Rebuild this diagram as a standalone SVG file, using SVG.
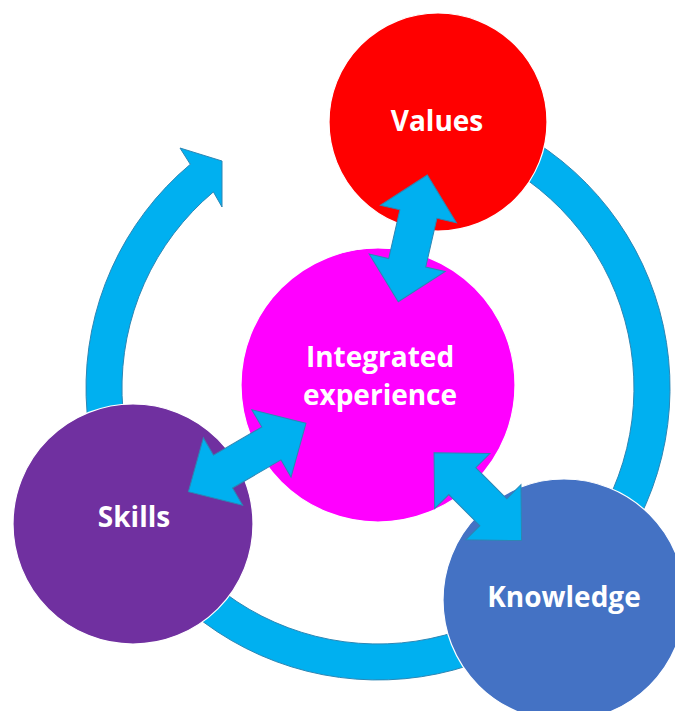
<svg xmlns="http://www.w3.org/2000/svg" width="675" height="711" viewBox="0 0 675 711">
  <defs>
    <style>
      .flow { fill: #00B0F0; stroke: #2C86B4; stroke-width: 1; stroke-linejoin: miter; }
      .node { stroke: #FFFFFF; stroke-width: 1.2; }
      .label { fill: #FFFFFF; font-family: "Open Sans", Lato, "Liberation Sans", sans-serif; font-weight: 700; font-size: 28px; text-anchor: middle; }
    </style>
  </defs>
  <rect width="675" height="711" fill="#FFFFFF"/>

  <g id="cycle-arrow">
    <path class="flow" d="M 428.7,100.4 A 292 292 0 1 1 190.3,164.3 L 180,148 L 222,161 L 222,207 L 213.4,191.9 A 256 256 0 1 0 422.5,135.9 Z"/>
  </g>

  <g id="node-values">
    <circle class="node" cx="438" cy="122" r="109" fill="#FF0000"/>
    <text class="label" x="437" y="131">Values</text>
  </g>
  <g id="node-integrated">
    <circle class="node" cx="378" cy="385" r="137" fill="#FF00FF"/>
    <text class="label" x="380" y="367">Integrated</text>
    <text class="label" x="380" y="405">experience</text>
  </g>
  <g id="node-skills">
    <circle class="node" cx="133" cy="524" r="120" fill="#7030A0"/>
    <text class="label" x="134" y="527">Skills</text>
  </g>
  <g id="node-knowledge">
    <circle class="node" cx="564" cy="600" r="121" fill="#4472C4"/>
    <text class="label" x="564" y="607">Knowledge</text>
  </g>

  <g id="connectors">
    <polygon class="flow" transform="translate(412.8,238.4) rotate(-77.1)" points="65,0 25,-39 25,-19 -25,-19 -25,-39 -65,0 -25,39 -25,19 25,19 25,39"/>
    <polygon class="flow" transform="translate(247.2,457.5) rotate(-30.2)" points="68,0 28,-39 28,-19 -28,-19 -28,-39 -68,0 -28,39 -28,19 28,19 28,39"/>
    <polygon class="flow" transform="translate(477.8,496.7) rotate(45.1)" points="62,0 22,-39 22,-19 -22,-19 -22,-39 -62,0 -22,39 -22,19 22,19 22,39"/>
  </g>
</svg>
